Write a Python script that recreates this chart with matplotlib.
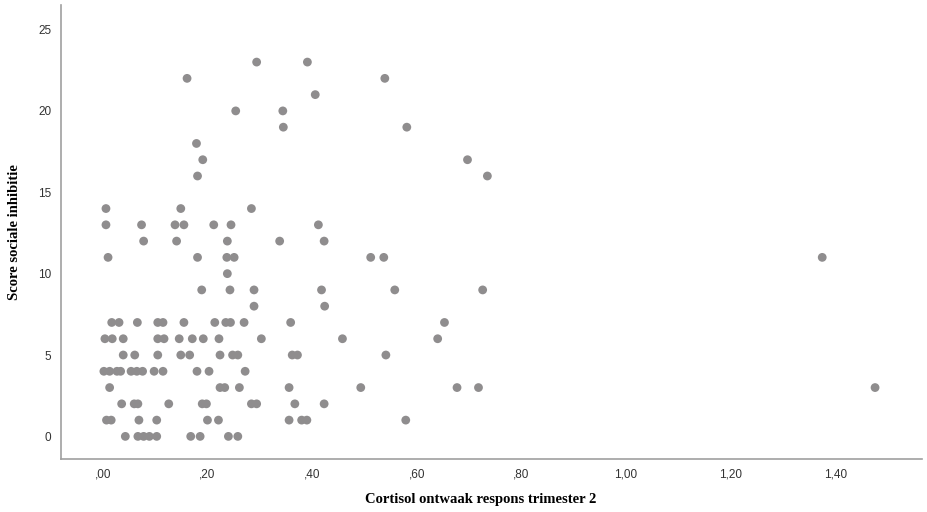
import numpy as np
import matplotlib
matplotlib.use("Agg")
import matplotlib.pyplot as plt
from matplotlib.ticker import FuncFormatter

# cortisol awakening response (x) per social inhibition score (y)
cortisol = [
    0.294, 0.391,
    0.161, 0.539,
    0.406,
    0.254, 0.344,
    0.345, 0.581,
    0.179,
    0.191, 0.697,
    0.181, 0.735,
    0.006, 0.149, 0.284,
    0.006, 0.074, 0.138, 0.155, 0.212, 0.245, 0.412,
    0.078, 0.141, 0.238, 0.338, 0.423,
    0.010, 0.181, 0.237, 0.251, 0.512, 0.537, 1.375,
    0.238,
    0.189, 0.243, 0.289, 0.418, 0.558, 0.726,
    0.289, 0.424,
    0.017, 0.031, 0.066, 0.105, 0.115, 0.155, 0.214, 0.235, 0.244, 0.270, 0.359, 0.653,
    0.004, 0.018, 0.039, 0.105, 0.117, 0.146, 0.171, 0.192, 0.222, 0.303, 0.458, 0.640,
    0.039, 0.061, 0.105, 0.149, 0.166, 0.224, 0.248, 0.258, 0.362, 0.372, 0.541,
    0.002, 0.013, 0.027, 0.034, 0.054, 0.065, 0.076, 0.098, 0.115, 0.180, 0.203, 0.272,
    0.013, 0.224, 0.233, 0.261, 0.356, 0.493, 0.677, 0.718, 1.476,
    0.036, 0.060, 0.067, 0.126, 0.190, 0.198, 0.284, 0.294, 0.367, 0.423,
    0.007, 0.016, 0.069, 0.103, 0.200, 0.221, 0.356, 0.380, 0.390, 0.579,
    0.043, 0.067, 0.078, 0.089, 0.103, 0.168, 0.186, 0.240, 0.258,
]
score = (
    [23] * 2 + [22] * 2 + [21] * 1 + [20] * 2 + [19] * 2 + [18] * 1 + [17] * 2 + [16] * 2
    + [14] * 3 + [13] * 7 + [12] * 5 + [11] * 7 + [10] * 1 + [9] * 6 + [8] * 2
    + [7] * 12 + [6] * 12 + [5] * 11 + [4] * 12 + [3] * 9 + [2] * 10 + [1] * 10 + [0] * 9
)

x_ticks = [0.0, 0.2, 0.4, 0.6, 0.8, 1.0, 1.2, 1.4]
y_ticks = [0, 5, 10, 15, 20, 25]


def spss_fmt(v, pos):
    s = "%.2f" % v
    s = s.replace(".", ",")
    if s.startswith("0,"):
        s = s[1:]
    return s


fig = plt.figure(figsize=(9.28, 5.12), dpi=100)
ax = fig.add_axes([0.0657, 0.1035, 0.928, 0.8865])

ax.scatter(cortisol, score, s=40, color="#8f8d8e", edgecolors="none", zorder=3)

ax.set_xlim(-0.080, 1.566)
ax.set_ylim(-1.39, 26.5)
ax.set_xticks(x_ticks)
ax.set_yticks(y_ticks)
ax.xaxis.set_major_formatter(FuncFormatter(spss_fmt))

for side in ["top", "right"]:
    ax.spines[side].set_visible(False)
for side in ["left", "bottom"]:
    ax.spines[side].set_color("#a0a0a0")
    ax.spines[side].set_linewidth(1.2)

ax.tick_params(axis="both", length=0, labelsize=8.5, labelcolor="#333333",
               labelfontfamily="Liberation Sans")
ax.tick_params(axis="x", pad=6.5)
ax.tick_params(axis="y", pad=7)

ax.set_xlabel("Cortisol ontwaak respons trimester 2", family="Liberation Serif",
              fontweight="bold", fontsize=10.5, labelpad=9)
ax.set_ylabel("Score sociale inhibitie", family="Liberation Serif",
              fontweight="bold", fontsize=10.5, labelpad=12)
# SPSS centres the x title a bit left of the frame centre
ax.xaxis.label.set_x(0.487)

fig.savefig("out.png", dpi=100)
